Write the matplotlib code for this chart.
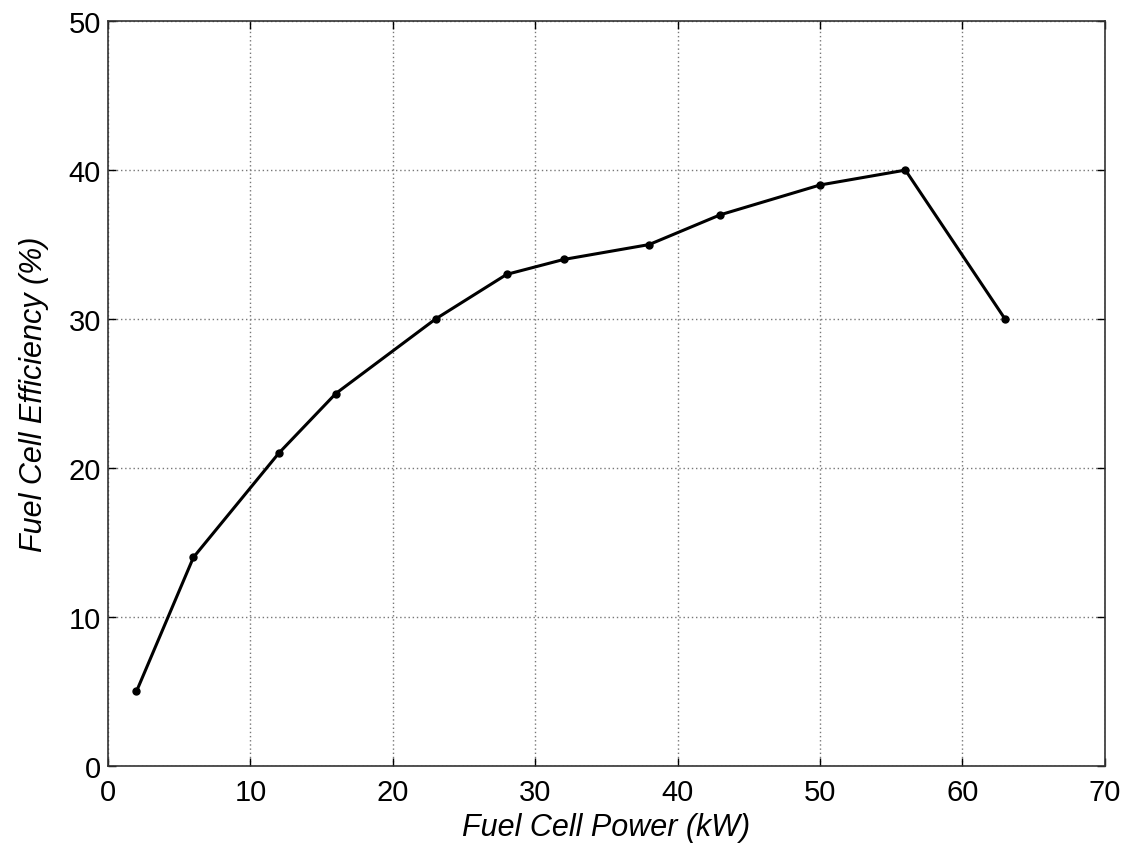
import matplotlib.pyplot as plt

power_kw = [2, 6, 12, 16, 23, 28, 32, 38, 43, 50, 56, 63]
efficiency = [5, 14, 21, 25, 30, 33, 34, 35, 37, 39, 40, 30]
x_ticks = [0, 10, 20, 30, 40, 50, 60, 70]
y_ticks = [0, 10, 20, 30, 40, 50]

plt.rcParams['font.family'] = ['Liberation Sans', 'DejaVu Sans']

fig = plt.figure(figsize=(11.25, 8.53), dpi=100)
ax = fig.add_axes([0.096, 0.101, 0.886, 0.873])

ax.plot(power_kw, efficiency, color="black", linewidth=2.2, marker="o", markersize=5)

ax.set_xlim(0, 70)
ax.set_ylim(0, 50)
ax.set_xticks(x_ticks)
ax.set_yticks(y_ticks)
ax.tick_params(direction="in", top=True, right=True, length=6, width=1, labelsize=21)
ax.tick_params(axis="x", pad=9)
ax.tick_params(axis="y", pad=5)
ax.grid(True, linestyle=(0, (1, 2)), color="#777777", linewidth=1)
for s in ax.spines.values():
    s.set_linewidth(1.2)
    s.set_color("#333333")

ax.set_xlabel("Fuel Cell Power (kW)", fontsize=22, style="italic", labelpad=4)
ax.set_ylabel("Fuel Cell Efficiency (%)", fontsize=22, style="italic", labelpad=14)

fig.savefig("out.png", dpi=100)
